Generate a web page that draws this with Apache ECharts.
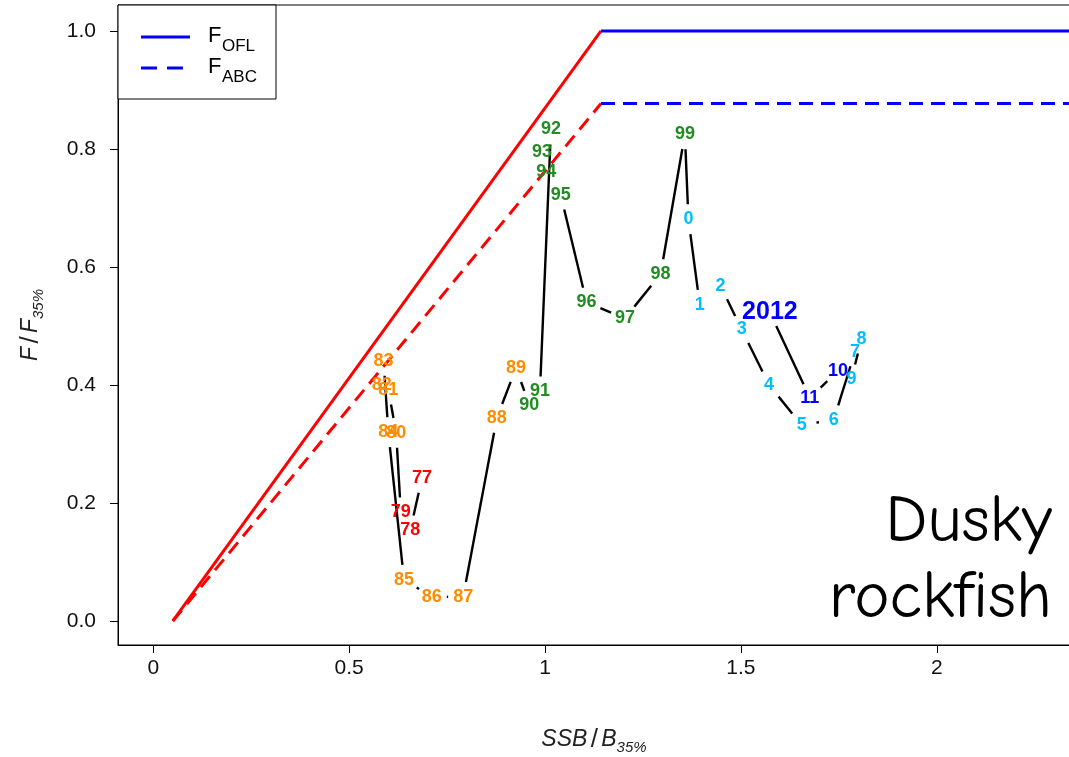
<!DOCTYPE html>
<html><head><meta charset="utf-8">
<script src="https://cdn.jsdelivr.net/npm/echarts@6/dist/echarts.min.js"></script>
<style>html,body{margin:0;padding:0;background:#fff}#c{width:1069px;height:757px}</style>
</head><body><div id="c"></div>
<script>
// ---- data ----
const yearLabels = ['77','78','79','80','81','82','83','84','85','86','87','88','89',
  '90','91','92','93','94','95','96','97','98','99',
  '0','1','2','3','4','5','6','7','8','9','10','11','2012'];
const ssbRatio = [0.686,0.656,0.632,0.620,0.600,0.583,0.588,0.600,0.640,0.711,0.791,0.877,0.926,
  0.960,0.987,1.015,0.992,1.003,1.040,1.106,1.204,1.295,1.357,
  1.366,1.395,1.448,1.502,1.572,1.655,1.737,1.791,1.808,1.782,1.748,1.676,1.574];
const fRatio = [0.242,0.154,0.184,0.319,0.392,0.400,0.441,0.320,0.070,0.041,0.041,0.344,0.429,
  0.366,0.389,0.833,0.794,0.761,0.722,0.540,0.513,0.588,0.825,
  0.681,0.536,0.568,0.494,0.400,0.332,0.341,0.456,0.478,0.410,0.424,0.378,0.523];
const firstYear = 1977;
const ruleX = [0.05, 1.1429, 2.34];
const ruleOFL = [0, 1.0, 1.0];
const ruleABC = [0, 0.877, 0.877];
const xTicks = [0, 0.5, 1, 1.5, 2];
const xTickLabels = ['0', '0.5', '1', '1.5', '2'];
const yTicks = [0, 0.2, 0.4, 0.6, 0.8, 1.0];
const yTickLabels = ['0.0', '0.2', '0.4', '0.6', '0.8', '1.0'];

// ---- helpers ----
function decadeColor(i) {
  const yr = firstYear + i;
  if (yr < 1980) return '#FF0000';
  if (yr < 1990) return '#FF8C00';
  if (yr < 2000) return '#228B22';
  if (yr < 2010) return '#00BFFF';
  return '#0000FF';
}
function tickText(v, ticks, labels) {
  const k = ticks.findIndex(t => Math.abs(t - v) < 1e-9);
  return k >= 0 ? labels[k] : '';
}
const segs = [];
for (let i = 0; i < ssbRatio.length - 1; i++) segs.push([ssbRatio[i], fRatio[i], ssbRatio[i+1], fRatio[i+1]]);
const pts = ssbRatio.map((x, i) => [x, fRatio[i], i]);

const FONT = '"Liberation Sans", Arial, Helvetica, sans-serif';
const COMIC = '"Comic Sans MS", "Comic Neue", "DejaVu Sans", sans-serif';
const titleRich = {
  i: {fontSize: 23, fontStyle: 'italic', fontFamily: FONT, color: '#222', lineHeight: 30, verticalAlign: 'middle'},
  n: {fontSize: 26, fontFamily: FONT, color: '#222', lineHeight: 30},
  s: {fontSize: 15, fontStyle: 'italic', fontFamily: FONT, color: '#222', lineHeight: 30, verticalAlign: 'bottom'}
};
const chart = echarts.init(document.getElementById('c'), null, {renderer: 'canvas'});
chart.setOption({
  animation: false,
  backgroundColor: '#fff',
  grid: {left: 118, top: 5, right: -1, bottom: 112, show: true, borderColor: '#000', borderWidth: 1, containLabel: false, outerBoundsMode: 'none'},
  xAxis: {
    type: 'value', min: -0.09, max: 2.34,
    splitLine: {show: false},
    axisLine: {show: true, onZero: false, lineStyle: {color: '#000', width: 1}},
    axisTick: {show: true, customValues: xTicks, length: 8, lineStyle: {color: '#000'}},
    axisLabel: {customValues: xTicks, formatter: v => tickText(v, xTicks, xTickLabels), color: '#111', fontSize: 21, fontFamily: FONT, margin: 13},
    name: '{i|SSB} {n|/} {i|B}{s|35%}', nameLocation: 'middle', nameGap: 80,
    nameTextStyle: {rich: titleRich}
  },
  yAxis: {
    type: 'value', min: -0.0407, max: 1.044,
    splitLine: {show: false},
    axisLine: {show: true, onZero: false, lineStyle: {color: '#000', width: 1}},
    axisTick: {show: true, customValues: yTicks, length: 8, lineStyle: {color: '#000'}},
    axisLabel: {customValues: yTicks, formatter: v => tickText(v, yTicks, yTickLabels), color: '#111', fontSize: 21, fontFamily: FONT, margin: 22},
    name: '{i|F} {n|/} {i|F}{s|35%}', nameLocation: 'middle', nameGap: 72, nameRotate: 90,
    nameTextStyle: {rich: titleRich}
  },
  series: [
    {type: 'line', data: [[ruleX[0], ruleOFL[0]], [ruleX[1], ruleOFL[1]]], symbol: 'none', lineStyle: {color: '#FF0000', width: 3}, z: 2},
    {type: 'line', data: [[ruleX[1], ruleOFL[1]], [ruleX[2], ruleOFL[2]]], symbol: 'none', lineStyle: {color: '#0000FF', width: 3}, z: 2},
    {type: 'line', data: [[ruleX[0], ruleABC[0]], [ruleX[1], ruleABC[1]]], symbol: 'none', lineStyle: {color: '#FF0000', width: 3, type: [14, 8]}, z: 2},
    {type: 'line', data: [[ruleX[1], ruleABC[1]], [ruleX[2], ruleABC[2]]], symbol: 'none', lineStyle: {color: '#0000FF', width: 3, type: [14, 8]}, z: 2},
    {
      type: 'custom', data: segs, dimensions: ['x1', 'y1', 'x2', 'y2'], encode: {x: [0, 2], y: [1, 3]}, z: 3,
      renderItem: function (params, api) {
        const a = api.coord([api.value(0), api.value(1)]);
        const b = api.coord([api.value(2), api.value(3)]);
        const dx = b[0] - a[0], dy = b[1] - a[1], d = Math.hypot(dx, dy);
        const gap = 15;
        if (d <= 2 * gap) return {type: 'group', children: []};
        const ux = dx / d, uy = dy / d;
        return {type: 'line', shape: {x1: a[0] + ux * gap, y1: a[1] + uy * gap, x2: b[0] - ux * gap, y2: b[1] - uy * gap},
          style: {stroke: '#000', lineWidth: 2.4, lineCap: 'butt'}};
      }
    },
    {
      type: 'custom', data: pts, encode: {x: 0, y: 1}, z: 4,
      renderItem: function (params, api) {
        const p = api.coord([api.value(0), api.value(1)]);
        const i = api.value(2);
        const big = yearLabels[i].length === 4;
        return {type: 'text', x: p[0], y: p[1], style: {text: yearLabels[i], fill: decadeColor(i), align: 'center', verticalAlign: 'middle',
          font: 'bold ' + (big ? 25 : 18) + 'px ' + FONT}};
      }
    }
  ],
  graphic: [
    {type: 'rect', shape: {x: 118, y: 5, width: 158, height: 94}, style: {fill: '#fff', stroke: '#000', lineWidth: 1}, z: 10},
    {type: 'line', shape: {x1: 141, y1: 37, x2: 190, y2: 37}, style: {stroke: '#0000FF', lineWidth: 3}, z: 11},
    {type: 'line', shape: {x1: 141, y1: 68, x2: 184, y2: 68}, style: {stroke: '#0000FF', lineWidth: 3, lineDash: [16, 10]}, z: 11},
    {type: 'text', x: 208, y: 47, style: {text: 'F', font: '22px ' + FONT, fill: '#000', verticalAlign: 'bottom'}, z: 11},
    {type: 'text', x: 222, y: 55, style: {text: 'OFL', font: '17px ' + FONT, fill: '#000', verticalAlign: 'bottom'}, z: 11},
    {type: 'text', x: 208, y: 78, style: {text: 'F', font: '22px ' + FONT, fill: '#000', verticalAlign: 'bottom'}, z: 11},
    {type: 'text', x: 222, y: 86, style: {text: 'ABC', font: '17px ' + FONT, fill: '#000', verticalAlign: 'bottom'}, z: 11},
    {type: 'text', x: 1052, y: 522, style: {text: 'Dusky', font: '67px ' + COMIC, fill: '#000', align: 'right', verticalAlign: 'middle'}, z: 11},
    {type: 'text', x: 1052, y: 598, style: {text: 'rockfish', font: '67px ' + COMIC, fill: '#000', align: 'right', verticalAlign: 'middle'}, z: 11}
  ]
});
</script>
</body></html>
